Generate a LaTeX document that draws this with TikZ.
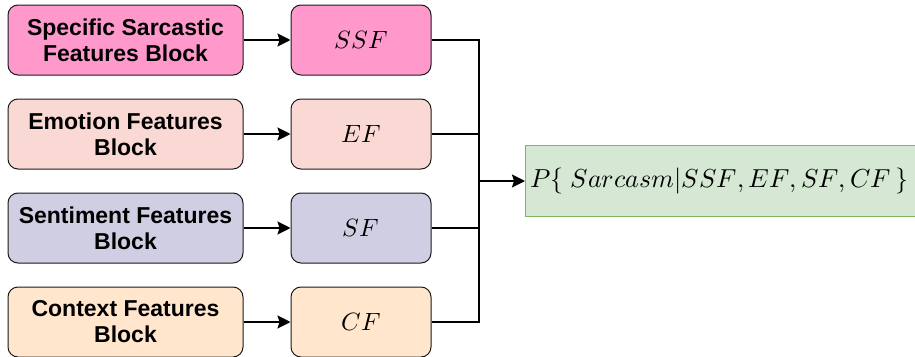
\documentclass[tikz,border=0pt]{standalone}
\usepackage{fontspec}
\usepackage{unicode-math}
\setmainfont{Liberation Sans}
\setmathfont{Latin Modern Math}
\usetikzlibrary{arrows.meta}
\definecolor{cpink}{HTML}{FF99CC}
\definecolor{cemo}{HTML}{FAD9D5}
\definecolor{csent}{HTML}{D0CEE2}
\definecolor{cctx}{HTML}{FFE6CC}
\definecolor{cgreen}{HTML}{D5E8D4}
\definecolor{cgreenb}{HTML}{82B366}
\definecolor{cborder}{HTML}{1A1A1A}
\tikzset{
  blockbox/.style={draw=cborder, line width=1pt, rounded corners=10pt, minimum width=235pt, minimum height=70pt, align=center, inner sep=0pt, font=\fontsize{23}{26}\selectfont\bfseries},
  featbox/.style={draw=cborder, line width=1pt, rounded corners=10pt, minimum width=140pt, minimum height=70pt, inner sep=0pt, font=\fontsize{25}{28}\selectfont},
  outbox/.style={draw=cgreenb, fill=cgreen, line width=1pt, minimum width=400pt, minimum height=71pt, inner sep=0pt},
  conn/.style={line width=2pt, draw=black},
  arr/.style={conn, -{Stealth[length=13pt,width=13pt,inset=2pt]}}
}
\begin{document}
\begin{tikzpicture}[x=1pt,y=-1pt]
\useasboundingbox (0,0) rectangle (915,356);
\clip (0,0) rectangle (915,356);
\node[blockbox, fill=cpink] (b1) at (125.5,40) {Specific Sarcastic\\Features Block};
\node[blockbox, fill=cemo] (b2) at (125.5,134) {Emotion Features\\Block};
\node[blockbox, fill=csent] (b3) at (125.5,228) {Sentiment Features\\Block};
\node[blockbox, fill=cctx] (b4) at (125.5,322) {Context Features\\Block};
\node[featbox, fill=cpink] (f1) at (361,40) {$SSF$};
\node[featbox, fill=cemo] (f2) at (361,134) {$EF$};
\node[featbox, fill=csent] (f3) at (361,228) {$SF$};
\node[featbox, fill=cctx] (f4) at (361,322) {$CF$};
\node[outbox, anchor=west] (out) at (525,181) {};
\node[anchor=west, inner sep=0pt, font=\fontsize{26}{30}\selectfont] (outtext) at (530,181) {$P\{\ Sarcasm|SSF,EF,SF,CF\,\}$};
\coordinate (j1) at (479,40);
\coordinate (j4) at (479,322);
\coordinate (jm) at (479,181);
\draw[arr] (b1) -- (f1);
\draw[arr] (b2) -- (f2);
\draw[arr] (b3) -- (f3);
\draw[arr] (b4) -- (f4);
\draw[conn] (f1.east) -- (j1) -- (j4) -- (f4.east);
\draw[conn] (f2.east) -- (f2.east -| j1);
\draw[conn] (f3.east) -- (f3.east -| j1);
\draw[arr] (jm) -- (out.west);
\end{tikzpicture}
\end{document}
